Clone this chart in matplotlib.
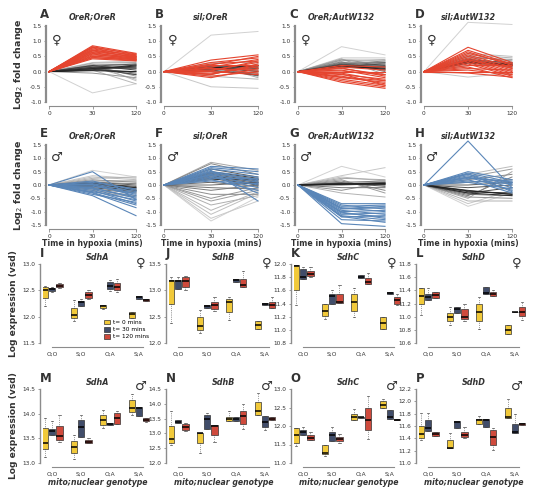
import numpy as np
import matplotlib
matplotlib.use("Agg")
import matplotlib.pyplot as plt
from matplotlib.patches import Patch

W, H = 535, 496

# ---- line panels (log2 fold change), values at t=30 and t=120 (t=0 is 0) ----
times = ["0", "30", "120"]

A_red30 = [0.85, 0.82, 0.8, 0.78, 0.75, 0.72, 0.7, 0.68, 0.65, 0.63, 0.6, 0.58, 0.55, 0.52, 0.5, 0.47, 0.45, 0.42]
A_red120 = [0.6, 0.55, 0.58, 0.5, 0.52, 0.45, 0.55, 0.48, 0.5, 0.42, 0.47, 0.4, 0.45, 0.38, 0.42, 0.36, 0.4, 0.35]
A_grey30 = [-0.7, 0.3, 0.25, 0.05, 0.15, 0.28, 0.2, -0.05, 0.22, 0.12, 0.1, 0.15, 0.05, 0.12, 0.18, 0.08, 0.1, 0.2, 0.14, 0.06, 0.1, 0.03]
A_grey120 = [-0.4, 0.35, -0.3, -0.4, -0.25, 0.3, -0.15, -0.2, 0.25, -0.1, 0.1, 0.2, 0.0, -0.05, 0.25, 0.15, -0.1, 0.05, 0.12, 0.22, 0.18, 0.0]

B_red30 = [0.38, 0.3, 0.25, 0.2, 0.15, 0.1, 0.05, 0.0, -0.05, -0.1, -0.15, -0.2, 0.22, 0.12, 0.02, -0.08]
B_red120 = [0.55, 0.45, 0.35, 0.2, 0.4, 0.05, 0.3, -0.1, 0.15, 0.25, 0.0, 0.1, 0.5, -0.05, 0.35, 0.2]
B_grey30 = [1.2, -0.5, 0.3, -0.15, 0.25, -0.1, 0.2, 0.15, 0.1, 0.05, 0.0, 0.18, 0.08, 0.12, 0.1, 0.05, 0.15, 0.12]
B_grey120 = [1.32, -0.55, 0.3, -0.25, -0.2, 0.25, -0.15, 0.2, -0.1, 0.15, -0.05, 0.1, 0.05, 0.18, 0.12, -0.12, 0.0, 0.2]

C_red30 = [0.2, 0.15, 0.1, 0.05, 0.0, -0.05, -0.1, -0.15, -0.2, -0.25, -0.3, -0.35, 0.12, 0.02, -0.08, -0.18]
C_red120 = [0.15, 0.05, -0.1, -0.2, 0.0, -0.3, -0.25, -0.4, -0.35, -0.45, -0.5, -0.55, -0.15, -0.1, -0.45, -0.3]
C_grey30 = [0.82, 0.45, 0.4, 0.35, 0.42, 0.3, 0.38, 0.25, 0.32, 0.28, 0.22, 0.2, 0.25, 0.18, 0.22, 0.15, 0.2, 0.18]
C_grey120 = [0.55, 0.45, 0.35, 0.4, -0.1, 0.3, 0.25, 0.35, 0.0, 0.2, 0.3, 0.15, 0.1, 0.25, 0.05, 0.12, 0.18, 0.08]

D_red30 = [0.8, 0.7, 0.65, 0.55, 0.5, 0.45, 0.4, 0.35, 0.3, 0.25, 0.2, 0.15, 0.1, 0.05, 0.0, -0.05, 0.6, 0.38]
D_red120 = [0.3, 0.25, 0.2, 0.15, 0.1, 0.05, 0.0, -0.05, -0.1, -0.15, 0.2, -0.2, 0.05, -0.1, 0.0, -0.18, 0.25, 0.12]
D_grey30 = [1.62, -0.18, 0.6, 0.55, 0.5, 0.45, 0.2, 0.5, 0.42, 0.38, 0.3, 0.35, 0.4, 0.32, 0.28, 0.36, 0.3, 0.33]
D_grey120 = [1.55, -0.05, 0.5, 0.45, 0.1, 0.4, 0.3, 0.35, 0.15, 0.3, 0.2, 0.25, 0.28, 0.2, 0.22, 0.18, 0.25, 0.22]

E_blue30 = [0.5, 0.1, 0.05, 0.0, -0.05, -0.1, -0.15, -0.2, -0.25, -0.3, -0.35, -0.4, 0.15, 0.02, -0.12, -0.28]
E_blue120 = [-0.55, -0.15, -0.25, -0.4, -0.3, -0.5, -0.6, -0.7, -0.55, -0.85, -0.65, -1.15, -0.2, -0.35, -0.45, -0.75]
E_grey30 = [0.55, 0.35, 0.3, 0.25, -0.25, 0.2, -0.2, 0.15, 0.1, -0.15, 0.05, 0.1, 0.0, -0.1, 0.05, 0.0, 0.08, -0.05]
E_grey120 = [0.3, 0.25, 0.2, 0.3, -0.45, 0.1, -0.4, 0.15, 0.05, -0.3, -0.2, 0.0, -0.1, -0.25, -0.05, -0.15, -0.1, -0.2]

F_blue30 = [0.7, 0.65, 0.6, 0.55, 0.5, 0.45, 0.4, 0.35, 0.3, 0.25, 0.2, 0.15, 0.5, 0.38]
F_blue120 = [0.6, 0.5, 0.4, -0.6, 0.3, 0.2, 0.1, 0.0, -0.1, 0.25, -0.2, 0.05, 0.15, -0.3]
F_grey30 = [-1.35, -1.25, -1.1, -0.95, -0.75, 0.85, -0.6, -0.5, -0.35, 0.8, -0.2, -0.1, 0.0, 0.1, 0.6, 0.2, 0.3, 0.4, 0.5, 0.35, 0.25, 0.45]
F_grey120 = [-0.45, -0.6, -0.3, -0.25, -0.4, 0.55, -0.2, -0.1, -0.35, 0.4, 0.0, -0.15, 0.1, -0.05, 0.3, 0.2, 0.05, 0.15, 0.25, 0.1, 0.0, 0.2]

G_blue30 = [-0.7, -0.75, -0.8, -0.85, -0.9, -0.95, -1.0, -1.05, -1.1, -1.15, -1.2, -1.3, -1.45, -0.88, -1.02, -1.18]
G_blue120 = [-0.7, -0.9, -0.75, -1.0, -0.85, -1.1, -0.95, -1.2, -1.05, -1.3, -1.15, -1.35, -1.55, -0.8, -1.25, -1.4]
G_grey30 = [0.7, 0.35, 0.3, -0.3, 0.25, 0.2, -0.2, 0.15, 0.1, -0.1, 0.05, 0.08, 0.0, 0.05, 0.02, 0.06, 0.04, 0.03]
G_grey120 = [0.3, 0.65, 0.15, -0.45, 0.2, -0.3, 0.1, -0.2, 0.15, -0.1, 0.1, -0.05, 0.05, 0.0, 0.08, 0.02, 0.04, 0.06]

H_blue30 = [1.65, 0.5, 0.45, 0.4, 0.35, 0.3, 0.25, 0.2, 0.15, 0.1, 0.42, 0.28]
H_blue120 = [-0.1, 0.2, 0.1, 0.0, -0.1, -0.2, 0.15, -0.3, 0.05, -0.15, -0.25, 0.1]
H_grey30 = [-0.8, -0.7, 0.4, -0.6, -0.5, 0.3, -0.45, 0.2, -0.4, 0.1, -0.35, 0.0, -0.1, -0.3, -0.2, -0.25, -0.3, -0.22]
H_grey120 = [-0.3, -0.2, 0.7, -0.6, 0.5, 0.6, -0.5, 0.4, 0.3, 0.2, -0.4, 0.1, 0.0, -0.1, -0.35, -0.3, -0.4, -0.35]

line_titles = ["OreR;OreR", "sil;OreR", "OreR;AutW132", "sil;AutW132"]

# ---- boxplots: (low whisker, q1, median, q3, high whisker) per genotype x time ----
genotypes = ["O;O", "S;O", "O;A", "S;A"]
time_labels = ["t= 0 mins", "t= 30 mins", "t= 120 mins"]

sdha_f = [(12.2, 12.35, 12.5, 12.57, 12.58), (12.46, 12.48, 12.52, 12.55, 12.57), (12.55, 12.56, 12.59, 12.62, 12.63),
          (11.92, 11.97, 12.03, 12.16, 12.32), (12.2, 12.21, 12.27, 12.3, 12.34), (12.34, 12.36, 12.42, 12.47, 12.5),
          (12.14, 12.17, 12.2, 12.23, 12.23), (12.49, 12.53, 12.58, 12.66, 12.7), (12.47, 12.5, 12.57, 12.64, 12.72),
          (11.98, 11.98, 12.05, 12.08, 12.08), (12.34, 12.34, 12.37, 12.39, 12.39), (12.3, 12.3, 12.32, 12.33, 12.33)]
sdhb_f = [(12.38, 12.75, 13.17, 13.2, 13.25), (13.03, 13.03, 13.17, 13.2, 13.25), (13.0, 13.06, 13.17, 13.25, 13.28),
          (12.19, 12.25, 12.33, 12.5, 12.62), (12.67, 12.67, 12.7, 12.73, 12.73), (12.6, 12.64, 12.72, 12.78, 12.87),
          (12.44, 12.59, 12.78, 12.84, 12.88), (13.15, 13.15, 13.2, 13.22, 13.22), (13.06, 13.06, 13.1, 13.22, 13.37),
          (12.27, 12.27, 12.35, 12.42, 12.42), (12.73, 12.73, 12.75, 12.76, 12.76), (12.66, 12.66, 12.73, 12.78, 12.87)]
sdhc_f = [(11.37, 11.6, 11.97, 11.98, 11.98), (11.77, 11.77, 11.8, 11.92, 11.95), (11.8, 11.82, 11.85, 11.9, 11.95),
          (11.16, 11.21, 11.28, 11.4, 11.4), (11.4, 11.4, 11.51, 11.55, 11.6), (11.41, 11.41, 11.42, 11.55, 11.68),
          (11.19, 11.29, 11.42, 11.55, 11.63), (11.78, 11.78, 11.8, 11.83, 11.83), (11.7, 11.7, 11.73, 11.79, 11.86),
          (11.01, 11.01, 11.1, 11.2, 11.2), (11.55, 11.55, 11.56, 11.57, 11.57), (11.37, 11.4, 11.45, 11.5, 11.55)]
sdhd_f = [(11.03, 11.19, 11.31, 11.44, 11.44), (11.26, 11.26, 11.3, 11.35, 11.43), (11.28, 11.29, 11.33, 11.37, 11.37),
          (10.88, 10.94, 11.0, 11.06, 11.14), (11.06, 11.06, 11.11, 11.14, 11.14), (10.94, 10.96, 11.0, 11.11, 11.2),
          (10.81, 10.94, 11.07, 11.2, 11.3), (11.35, 11.35, 11.36, 11.45, 11.45), (11.31, 11.31, 11.35, 11.37, 11.4),
          (10.73, 10.73, 10.8, 10.88, 10.88), (11.07, 11.07, 11.07, 11.07, 11.07), (10.95, 11.01, 11.07, 11.15, 11.22)]
sdha_m = [(13.13, 13.29, 13.4, 13.7, 13.91), (13.56, 13.56, 13.64, 13.68, 13.85), (13.43, 13.47, 13.54, 13.74, 13.97),
          (13.09, 13.2, 13.33, 13.44, 13.57), (13.53, 13.53, 13.72, 13.87, 13.98), (13.4, 13.4, 13.43, 13.47, 13.5),
          (13.7, 13.78, 13.88, 13.98, 14.07), (13.78, 13.78, 13.8, 13.82, 13.82), (13.8, 13.8, 13.92, 14.01, 14.05),
          (13.98, 14.03, 14.11, 14.28, 14.39), (13.96, 13.96, 14.11, 14.13, 14.13), (13.84, 13.85, 13.88, 13.91, 13.91)]
sdhb_m = [(12.62, 12.67, 12.8, 13.25, 13.74), (13.35, 13.35, 13.4, 13.45, 13.45), (13.08, 13.1, 13.22, 13.32, 13.35),
          (12.34, 12.67, 13.0, 13.03, 13.03), (13.16, 13.16, 13.48, 13.63, 13.68), (12.72, 12.94, 13.24, 13.27, 13.27),
          (13.43, 13.43, 13.5, 13.56, 13.74), (13.43, 13.43, 13.5, 13.56, 13.56), (13.16, 13.32, 13.6, 13.76, 14.0),
          (13.63, 13.63, 13.74, 14.07, 14.35), (13.12, 13.2, 13.38, 13.6, 13.6), (13.45, 13.45, 13.5, 13.56, 13.56)]
sdhc_m = [(11.45, 11.55, 11.75, 11.95, 11.95), (11.75, 11.75, 11.85, 11.9, 11.97), (11.62, 11.62, 11.67, 11.75, 11.85),
          (11.18, 11.25, 11.27, 11.5, 11.5), (11.6, 11.6, 11.75, 11.85, 11.97), (11.55, 11.6, 11.64, 11.7, 11.78),
          (12.17, 12.17, 12.24, 12.33, 12.45), (12.22, 12.22, 12.23, 12.24, 12.24), (11.65, 11.9, 12.15, 12.5, 12.8),
          (12.48, 12.48, 12.57, 12.68, 12.73), (12.2, 12.2, 12.25, 12.42, 12.42), (12.15, 12.15, 12.17, 12.2, 12.2)]
sdhd_m = [(11.38, 11.4, 11.47, 11.6, 11.81), (11.52, 11.52, 11.57, 11.7, 11.81), (11.43, 11.43, 11.47, 11.5, 11.5),
          (11.24, 11.24, 11.25, 11.37, 11.48), (11.57, 11.57, 11.67, 11.68, 11.68), (11.4, 11.42, 11.45, 11.5, 11.58),
          (11.64, 11.64, 11.69, 11.72, 11.76), (11.58, 11.58, 11.69, 11.72, 11.72), (11.21, 11.3, 11.42, 11.53, 11.57),
          (11.73, 11.73, 11.74, 11.9, 12.03), (11.48, 11.48, 11.5, 11.64, 11.8), (11.62, 11.62, 11.63, 11.65, 11.65)]

box_titles = ["SdhA", "SdhB", "SdhC", "SdhD"]

RED = "#e5452f"
BLUE = "#5a86b8"
BOX_COLORS = ["#f1c93a", "#414d6a", "#cf4a3c"]
SPINE = "#8c8c8c"
TXT = "#333333"


def axes_px(x0, x1, ytop, ybot):
    return [x0 / W, 1 - ybot / H, (x1 - x0) / W, (ybot - ytop) / H]


def style_axes(ax, left_lw):
    for s in ["top", "right"]:
        ax.spines[s].set_visible(False)
    ax.spines["left"].set_position(("outward", 2))
    ax.spines["bottom"].set_position(("outward", 3))
    ax.spines["left"].set_color(SPINE)
    ax.spines["bottom"].set_color(SPINE)
    ax.spines["left"].set_linewidth(left_lw)
    ax.spines["bottom"].set_linewidth(0.8)
    ax.tick_params(labelsize=4.2, length=1.8, width=0.6, color=SPINE, pad=1.5, labelcolor=TXT)


def panel_lines(ax, hi30, hi120, gr30, gr120, hi_color, ylim, yticks):
    x = [0, 1, 2]
    shades = np.linspace(0.82, 0.12, len(gr30))
    for i in range(len(gr30)):
        ax.plot(x, [0, gr30[i], gr120[i]], color=str(shades[i]), lw=0.7, clip_on=False)
    for a, b in zip(hi30, hi120):
        ax.plot(x, [0, a, b], color=hi_color, lw=0.8, clip_on=False)
    ax.set_xlim(0, 2)
    ax.set_ylim(*ylim)
    ax.set_xticks(x)
    ax.set_xticklabels(times, fontweight="bold")
    ax.set_yticks(yticks)
    ax.set_yticklabels([f"{v:.1f}" for v in yticks])
    style_axes(ax, 1.6)


def panel_boxes(ax, stats, ylim, yticks):
    offs = [-0.25, 0.0, 0.25]
    items, pos, cols = [], [], []
    for g in range(4):
        for t in range(3):
            lo, q1, med, q3, hi = stats[g * 3 + t]
            items.append(dict(whislo=lo, q1=q1, med=med, q3=q3, whishi=hi, fliers=[]))
            pos.append(g + 1 + offs[t])
            cols.append(BOX_COLORS[t])
    bp = ax.bxp(items, positions=pos, widths=0.22, patch_artist=True, manage_ticks=False,
                boxprops=dict(linewidth=0.5, edgecolor="#333333"),
                medianprops=dict(color="black", linewidth=1.1),
                whiskerprops=dict(linewidth=0.5, linestyle=":", color="#444444"),
                capprops=dict(linewidth=0.5, color="#444444"), capwidths=0.08)
    for patch, c in zip(bp["boxes"], cols):
        patch.set_facecolor(c)
    ax.set_xlim(0.68, 4.45)
    ax.set_ylim(*ylim)
    ax.set_xticks([1, 2, 3, 4])
    ax.set_xticklabels(genotypes, fontstyle="italic", fontweight="bold", fontsize=4.8)
    ax.set_yticks(yticks)
    ax.set_yticklabels([f"{v:.1f}" for v in yticks])
    style_axes(ax, 1.0)
    ax.spines["bottom"].set_bounds(1, 4.15)
    ax.tick_params(axis="x", length=0, pad=3)


fig = plt.figure(figsize=(W / 100, H / 100), dpi=100)

line_cols = [(49, 136), (164, 258), (298, 385), (424, 512)]
letters_top = ["A", "B", "C", "D"]
letters_mid = ["E", "F", "G", "H"]

top_data = [(A_red30, A_red120, A_grey30, A_grey120), (B_red30, B_red120, B_grey30, B_grey120),
            (C_red30, C_red120, C_grey30, C_grey120), (D_red30, D_red120, D_grey30, D_grey120)]
mid_data = [(E_blue30, E_blue120, E_grey30, E_grey120), (F_blue30, F_blue120, F_grey30, F_grey120),
            (G_blue30, G_blue120, G_grey30, G_grey120), (H_blue30, H_blue120, H_grey30, H_grey120)]

for i in range(4):
    x0, x1 = line_cols[i]
    ax = fig.add_axes(axes_px(x0, x1, 26, 102))
    hi30, hi120, gr30, gr120 = top_data[i]
    panel_lines(ax, hi30, hi120, gr30, gr120, RED, (-1.0, 1.5), [-1.0, -0.5, 0.0, 0.5, 1.0, 1.5])
    ax.set_title(line_titles[i], fontsize=5.8, fontstyle="italic", fontweight="bold", color=TXT, pad=5)
    ax.text(-0.1, 1.1, letters_top[i], transform=ax.transAxes, fontsize=8.5, fontweight="bold", color=TXT)
    ax.text(0.09, 0.82, "\u2640", transform=ax.transAxes, fontsize=9.5, ha="center", va="center", color=TXT)
    if i == 0:
        ax.set_ylabel("Log$_2$ fold change", fontsize=6.8, fontweight="bold", labelpad=4, color=TXT)

    ax = fig.add_axes(axes_px(x0, x1, 145, 225))
    hi30, hi120, gr30, gr120 = mid_data[i]
    panel_lines(ax, hi30, hi120, gr30, gr120, BLUE, (-1.5, 1.5), [-1.5, -1.0, -0.5, 0.0, 0.5, 1.0, 1.5])
    ax.set_title(line_titles[i], fontsize=5.8, fontstyle="italic", fontweight="bold", color=TXT, pad=5)
    ax.text(-0.1, 1.1, letters_mid[i], transform=ax.transAxes, fontsize=8.5, fontweight="bold", color=TXT)
    ax.text(0.09, 0.84, "\u2642", transform=ax.transAxes, fontsize=9.5, ha="center", va="center", color=TXT)
    ax.set_xlabel("Time in hypoxia (mins)", fontsize=5.6, fontweight="bold", labelpad=0, color=TXT)
    if i == 0:
        ax.set_ylabel("Log$_2$ fold change", fontsize=6.8, fontweight="bold", labelpad=4, color=TXT)

box_lefts = [43, 169, 294, 419]
fem = [(sdha_f, (11.5, 13.0), [11.5, 12.0, 12.5, 13.0]),
       (sdhb_f, (12.0, 13.5), [12.0, 12.5, 13.0, 13.5]),
       (sdhc_f, (10.8, 12.0), [10.8, 11.0, 11.2, 11.4, 11.6, 11.8, 12.0]),
       (sdhd_f, (10.6, 11.8), [10.6, 10.8, 11.0, 11.2, 11.4, 11.6, 11.8])]
mal = [(sdha_m, (13.0, 14.5), [13.0, 13.5, 14.0, 14.5]),
       (sdhb_m, (12.0, 14.5), [12.0, 12.5, 13.0, 13.5, 14.0, 14.5]),
       (sdhc_m, (11.0, 13.0), [11.0, 11.5, 12.0, 12.5, 13.0]),
       (sdhd_m, (11.0, 12.2), [11.0, 11.2, 11.4, 11.6, 11.8, 12.0, 12.2])]

for i in range(4):
    x0 = box_lefts[i]
    ax = fig.add_axes(axes_px(x0, x0 + 109, 264, 343))
    stats, ylim, yt = fem[i]
    panel_boxes(ax, stats, ylim, yt)
    ax.set_title(box_titles[i], fontsize=5.8, fontstyle="italic", fontweight="bold", color=TXT, pad=3)
    ax.text(-0.03, 1.09, "IJKL"[i], transform=ax.transAxes, fontsize=8.5, fontweight="bold", color=TXT)
    ax.text(0.9, 1.02, "\u2640", transform=ax.transAxes, fontsize=9.5, ha="center", va="center", color=TXT)
    if i == 0:
        ax.set_ylabel("Log expression (vsd)", fontsize=6.6, fontweight="bold", labelpad=3, color=TXT)
        handles = [Patch(facecolor=c, edgecolor="#333333", linewidth=0.5) for c in BOX_COLORS]
        ax.legend(handles, time_labels, loc="lower right", bbox_to_anchor=(1.02, -0.02), fontsize=4.2,
                  frameon=False, handlelength=1.0, handleheight=0.9, handletextpad=0.5, labelspacing=0.3)

    ax = fig.add_axes(axes_px(x0, x0 + 109, 389, 463))
    stats, ylim, yt = mal[i]
    panel_boxes(ax, stats, ylim, yt)
    ax.set_title(box_titles[i], fontsize=5.8, fontstyle="italic", fontweight="bold", color=TXT, pad=3)
    ax.text(-0.03, 1.1, "MNOP"[i], transform=ax.transAxes, fontsize=8.5, fontweight="bold", color=TXT)
    ax.text(0.9, 1.04, "\u2642", transform=ax.transAxes, fontsize=9.5, ha="center", va="center", color=TXT)
    ax.set_xlabel("mito;nuclear genotype", fontsize=5.6, fontweight="bold", fontstyle="italic", labelpad=1, color=TXT)
    if i == 0:
        ax.set_ylabel("Log expression (vsd)", fontsize=6.6, fontweight="bold", labelpad=3, color=TXT)

fig.savefig("out.png", dpi=100)
